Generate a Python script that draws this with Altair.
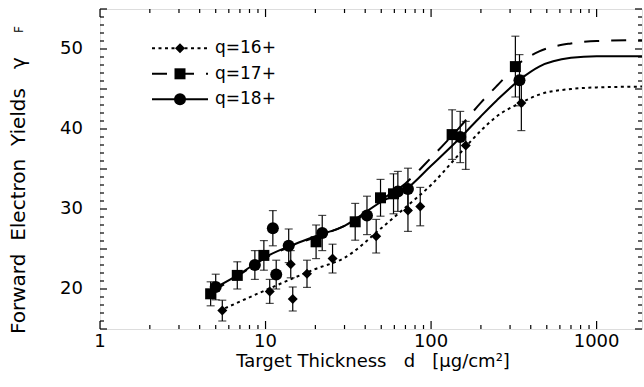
import altair as alt
import pandas as pd

# ---------------- data ----------------
q16_x = [5.48, 10.6, 14.2, 14.6, 17.8, 25.4, 46.6, 72.5, 86.0, 162, 351]
q16_y = [17.3, 19.7, 23.1, 18.75, 21.9, 23.8, 26.6, 29.8, 30.3, 37.95, 43.25]
q16_e = [1.3, 1.5, 1.7, 1.5, 1.7, 1.8, 2.1, 2.6, 2.4, 3.0, 3.45]

q17_x = [4.66, 6.75, 9.77, 20.2, 34.8, 49.5, 59.3, 134, 323]
q17_y = [19.4, 21.7, 24.2, 25.9, 28.4, 31.4, 31.9, 39.3, 47.8]
q17_e = [1.5, 1.7, 1.85, 2.1, 2.3, 2.3, 2.5, 3.1, 3.8]

q18_x = [5.0, 8.62, 11.07, 11.6, 13.8, 22.0, 41.0, 63.0, 72.5, 150, 342]
q18_y = [20.25, 23.0, 27.6, 21.8, 25.4, 27.0, 29.2, 32.2, 32.5, 39.0, 46.1]
q18_e = [1.6, 1.8, 2.2, 1.8, 2.1, 2.2, 2.4, 2.5, 2.6, 3.2, 3.2]

fit16_x = [5.7, 10, 20, 30, 50, 70, 100, 150, 200, 250, 350, 450, 700, 1000, 1880]
fit16_y = [17.6, 19.85, 22.5, 23.9, 27.6, 30.2, 33.0, 37.0, 39.8, 41.6, 43.3, 44.3, 45.0, 45.2, 45.3]

fit17_x = [4.7, 7, 10, 15, 20, 30, 40, 50, 70, 100, 150, 200, 250, 350, 450, 700, 1000, 1880]
fit17_y = [19.6, 21.8, 23.9, 25.5, 26.5, 27.9, 29.4, 31.1, 33.2, 36.4, 40.3, 43.3, 45.4, 48.4, 49.7, 50.7, 51.0, 51.1]

fit18_x = [5, 7, 10, 15, 20, 30, 50, 70, 100, 150, 200, 250, 350, 450, 700, 1000, 1880]
fit18_y = [20.2, 21.9, 24.0, 25.6, 26.6, 27.9, 30.9, 32.4, 35.4, 38.9, 41.6, 43.6, 46.3, 47.8, 48.9, 49.1, 49.1]

x_major = [1, 10, 100, 1000]
x_major_labels = ["1", "10", "100", "1000"]
x_minor = [m * d for d in (1, 10, 100) for m in range(2, 10)]
y_major = [v for v in range(15, 56) if v % 5 == 0]
y_minor = [v for v in range(16, 55) if v % 5 != 0]
y_label_values = [20, 30, 40, 50]
y_labels = ["20", "30", "40", "50"]

legend_labels = ["q=16+", "q=17+", "q=18+"]
NB = "\u00a0"
x_title = "Target Thickness" + NB * 3 + "d" + NB * 3 + "[μg/cm²]"
y_title = "Forward" + NB * 2 + "Electron" + NB * 2 + "Yields" + NB * 3 + "γ"
y_sub = "F"

# ---------------- chart ----------------
W, H = 542, 320
FONT = "DejaVu Sans"
xs = alt.Scale(type="log", domain=[1, 1880])
ys = alt.Scale(domain=[15, 55])


def pts(xv, yv, ev):
    return pd.DataFrame({"x": xv, "y": yv,
                         "lo": [a - b for a, b in zip(yv, ev)],
                         "hi": [a + b for a, b in zip(yv, ev)]})


d16, d17, d18 = pts(q16_x, q16_y, q16_e), pts(q17_x, q17_y, q17_e), pts(q18_x, q18_y, q18_e)

X = alt.X("x:Q", scale=xs, axis=None)
Y = alt.Y("y:Q", scale=ys, axis=None)


def fit(xv, yv, dash):
    df = pd.DataFrame({"x": xv, "y": yv})
    m = alt.Chart(df).mark_line(color="black", strokeWidth=2, interpolate="monotone",
                                **({"strokeDash": dash} if dash else {}))
    return m.encode(x=X, y=Y)


def errs(df):
    r = alt.Chart(df).mark_rule(color="black", strokeWidth=1.2).encode(
        x=X, y=alt.Y("lo:Q", scale=ys, axis=None), y2="hi:Q")
    c1 = alt.Chart(df).mark_tick(color="black", orient="horizontal", size=8, thickness=1.2).encode(
        x=X, y=alt.Y("lo:Q", scale=ys, axis=None))
    c2 = alt.Chart(df).mark_tick(color="black", orient="horizontal", size=8, thickness=1.2).encode(
        x=X, y=alt.Y("hi:Q", scale=ys, axis=None))
    return [r, c1, c2]


def marks(df, shape, size):
    return alt.Chart(df).mark_point(shape=shape, size=size, filled=True, color="black", opacity=1).encode(x=X, y=Y)


def xticks(vals, length):
    df = pd.DataFrame({"x": vals})
    b = alt.Chart(df).mark_rule(color="black", strokeWidth=1.2).encode(
        x=X, y=alt.value(H), y2=alt.value(H - length))
    t = alt.Chart(df).mark_rule(color="black", strokeWidth=1.2).encode(
        x=X, y=alt.value(0), y2=alt.value(length))
    return [b, t]


def yticks(vals, length):
    df = pd.DataFrame({"y": vals})
    l = alt.Chart(df).mark_rule(color="black", strokeWidth=1.2).encode(
        y=Y, x=alt.value(0), x2=alt.value(length))
    r = alt.Chart(df).mark_rule(color="black", strokeWidth=1.2).encode(
        y=Y, x=alt.value(W), x2=alt.value(W - length))
    return [l, r]


# tick labels
xlab = alt.Chart(pd.DataFrame({"x": x_major, "t": x_major_labels})).mark_text(
    font=FONT, fontSize=18, align="center", baseline="top", color="black").encode(
    x=X, y=alt.value(H + 4), text="t:N")
ylab = alt.Chart(pd.DataFrame({"y": y_label_values, "t": y_labels})).mark_text(
    font=FONT, fontSize=18, align="right", baseline="middle", color="black").encode(
    y=Y, x=alt.value(-17), text="t:N")

one = pd.DataFrame({"a": [0]})


def legend_row(i, dash, shape, size):
    yy = 39.3 + i * 25.5
    kw = {"strokeDash": dash} if dash else {}
    ln = alt.Chart(one).mark_rule(color="black", strokeWidth=2, **kw).encode(
        x=alt.value(52), x2=alt.value(108), y=alt.value(yy))
    mk = alt.Chart(one).mark_point(shape=shape, size=size, filled=True, color="black", opacity=1).encode(
        x=alt.value(80), y=alt.value(yy))
    tx = alt.Chart(one).mark_text(text=legend_labels[i], font=FONT, fontSize=17, align="left",
                                  baseline="middle", color="black").encode(
        x=alt.value(115), y=alt.value(yy))
    return [ln, mk, tx]


def label(text, x, y, size, angle=None, align="center", baseline="alphabetic"):
    kw = {"angle": angle} if angle is not None else {}
    return alt.Chart(one).mark_text(text=text, font=FONT, fontSize=size, align=align,
                                    baseline=baseline, color="black", **kw).encode(
        x=alt.value(x), y=alt.value(y))


layers = [fit(fit16_x, fit16_y, [3, 3.5]),
          fit(fit17_x, fit17_y, [15, 12]),
          fit(fit18_x, fit18_y, None)]
layers += errs(d16) + errs(d17) + errs(d18)
layers += [marks(d16, "diamond", 100), marks(d17, "square", 121), marks(d18, "circle", 144)]
layers += xticks(x_major, 8) + xticks(x_minor, 4) + yticks(y_major, 7) + yticks(y_minor, 4)
layers += [xlab, ylab]
layers += legend_row(0, [3, 3.5], "diamond", 100)
layers += legend_row(1, [15, 12], "square", 121)
layers += legend_row(2, None, "circle", 144)
layers += [
    label(x_title, 273, 358, 18),
    label(y_title, -75, 325, 20, angle=270, align="left"),
    label(y_sub, -77, 24, 12, angle=270, align="left"),
]

chart = alt.layer(*layers).properties(
    width=W, height=H,
    autosize=alt.AutoSizeParams(type="none"),
    padding={"left": 100, "top": 9, "right": 2, "bottom": 58},
).configure_view(stroke="black", strokeWidth=1.5).configure(background="white")

chart.save("out.html", embed_options={"renderer": "svg", "actions": False})
